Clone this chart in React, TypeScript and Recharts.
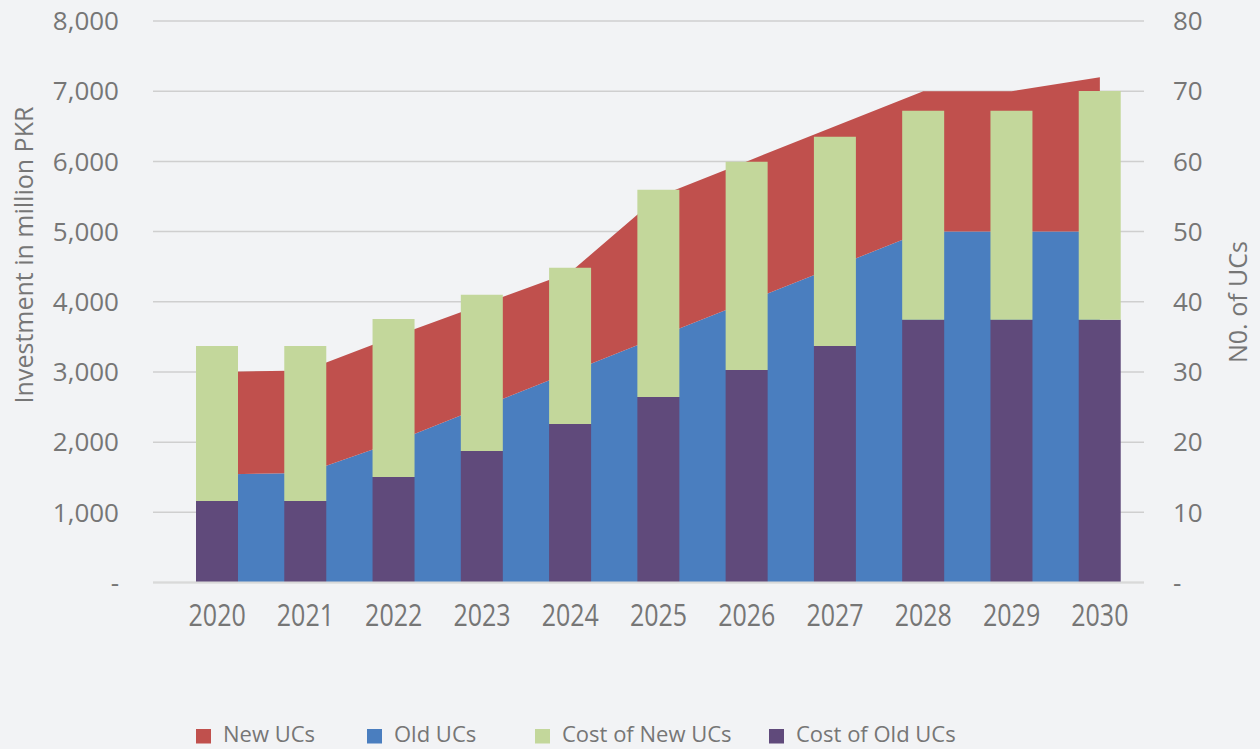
import React from 'react';
import { ComposedChart, Area, Bar, XAxis, YAxis, CartesianGrid, Legend } from 'recharts';

const years = ['2020', '2021', '2022', '2023', '2024', '2025', '2026', '2027', '2028', '2029', '2030'];
const oldUCs = [15.4, 15.6, 20, 25, 30, 35, 40, 45, 50, 50, 50];
const newUCs = [14.6, 14.6, 15, 14.6, 14.2, 20, 20, 20, 20, 20, 22];
const costOfOldUCs = [1162, 1162, 1504, 1875, 2259, 2644, 3029, 3371, 3742, 3742, 3742];
const costOfNewUCs = [2209, 2209, 2252, 2223, 2224, 2951, 2966, 2979, 2979, 2979, 3260];
const leftTicks = [0, 1000, 2000, 3000, 4000, 5000, 6000, 7000, 8000];
const rightTicks = [0, 10, 20, 30, 40, 50, 60, 70, 80];

const legendNames = ['New UCs', 'Old UCs', 'Cost of New UCs', 'Cost of Old UCs'];
const legendColors = ['#c0504d', '#4a7ebf', '#c3d79b', '#604a7b'];
const legendLefts = [196, 367, 535, 769];

const data = years.map((y, i) => ({
  year: y,
  oldUCs: oldUCs[i],
  newUCs: newUCs[i],
  costOld: costOfOldUCs[i],
  costNew: costOfNewUCs[i],
}));

const FONT = '"Open Sans", "Noto Sans", sans-serif';
const TEXT = '#767676';

const fmt = (v: number) => (v === 0 ? '-' : v.toLocaleString('en-US'));

const XTick = (props: any) => {
  const { x, y, payload } = props;
  return (
    <g transform={`translate(${x},${y + 35})`}>
      <text textAnchor="middle" transform="scale(1,1.22)" fontSize={25} fill={TEXT} fontFamily={FONT}>
        {payload.value}
      </text>
    </g>
  );
};

const renderLegend = () => (
  <svg width={1260} height={37} style={{ display: 'block', overflow: 'visible' }}>
    {legendNames.map((n, i) => (
      <g key={n}>
        <rect x={legendLefts[i]} y={17} width={15} height={14.5} fill={legendColors[i]} />
        <text x={legendLefts[i] + 27} y={30.4} fontSize={22} fill={TEXT} fontFamily={FONT}>
          {n}
        </text>
      </g>
    ))}
  </svg>
);

export default function App() {
  return (
    <div style={{ position: 'absolute', left: 0, top: 0, width: 1260, height: 749, background: '#f2f3f5' }}>
      <ComposedChart
        width={1260}
        height={749}
        data={data}
        margin={{ top: 21, right: 0, left: 0, bottom: 106.5 }}
      >
        <CartesianGrid yAxisId="left" vertical={false} stroke="#cfcfcf" strokeWidth={1.5} />
        <XAxis
          dataKey="year"
          padding={{ left: 20, right: 0 }}
          axisLine={{ stroke: '#d9d9d9', strokeWidth: 2 }}
          tickLine={false}
          tick={<XTick />}
          height={60}
          interval={0}
        />
        <YAxis
          yAxisId="left"
          width={153}
          domain={[0, 8000]}
          ticks={leftTicks}
          tickFormatter={fmt}
          axisLine={false}
          tickLine={false}
          tickMargin={28}
          tick={{ fontSize: 26, fill: TEXT, fontFamily: FONT }}
          label={() => (
            <text
              x={33}
              y={255}
              transform="rotate(-90, 33, 255)"
              textAnchor="middle"
              fontSize={25}
              fill={TEXT}
              fontFamily={FONT}
            >
              Investment in million PKR
            </text>
          )}
        />
        <YAxis
          yAxisId="right"
          orientation="right"
          width={116}
          domain={[0, 80]}
          ticks={rightTicks}
          tickFormatter={fmt}
          axisLine={false}
          tickLine={false}
          tickMargin={23}
          tick={{ fontSize: 26, fill: TEXT, fontFamily: FONT, textAnchor: 'start' }}
          label={() => (
            <text
              x={1247}
              y={302}
              transform="rotate(-90, 1247, 302)"
              textAnchor="middle"
              fontSize={25}
              fill={TEXT}
              fontFamily={FONT}
            >
              N0. of UCs
            </text>
          )}
        />
        <Area
          yAxisId="right"
          type="linear"
          dataKey="oldUCs"
          name="Old UCs"
          stackId="uc"
          stroke="none"
          fill="#4a7ebf"
          fillOpacity={1}
          isAnimationActive={false}
        />
        <Area
          yAxisId="right"
          type="linear"
          dataKey="newUCs"
          name="New UCs"
          stackId="uc"
          stroke="none"
          fill="#c0504d"
          fillOpacity={1}
          isAnimationActive={false}
        />
        <Bar
          yAxisId="left"
          dataKey="costOld"
          name="Cost of Old UCs"
          stackId="cost"
          fill="#604a7b"
          barSize={42}
          isAnimationActive={false}
        />
        <Bar
          yAxisId="left"
          dataKey="costNew"
          name="Cost of New UCs"
          stackId="cost"
          fill="#c3d79b"
          barSize={42}
          isAnimationActive={false}
        />
        <Legend
          verticalAlign="middle"
          align="center"
          width={1260}
          height={37}
          content={renderLegend}
          wrapperStyle={{ left: 0, top: 712, width: 1260, height: 37 }}
        />
      </ComposedChart>
    </div>
  );
}
